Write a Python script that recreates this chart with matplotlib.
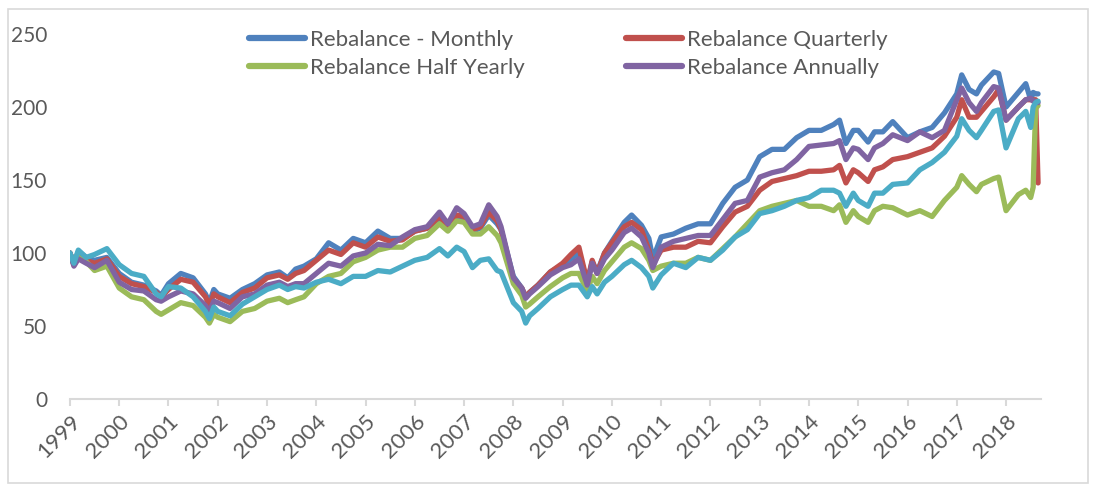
import matplotlib
matplotlib.use("Agg")
import matplotlib.pyplot as plt
from matplotlib.patches import Rectangle

plt.rcParams['font.family'] = ['Lato', 'DejaVu Sans']

# time points (fractional years)
t = [1999.0, 1999.08, 1999.17, 1999.33, 1999.5, 1999.75, 2000.0, 2000.25, 2000.5, 2000.75,
     2000.85, 2001.0, 2001.25, 2001.5, 2001.75, 2001.83, 2001.92, 2002.0, 2002.25, 2002.5,
     2002.75, 2003.0, 2003.25, 2003.42, 2003.58, 2003.75, 2004.0, 2004.25, 2004.5, 2004.75,
     2005.0, 2005.25, 2005.5, 2005.75, 2006.0, 2006.25, 2006.5, 2006.67, 2006.85, 2007.0,
     2007.17, 2007.33, 2007.5, 2007.67, 2007.75, 2008.0, 2008.17, 2008.25, 2008.33, 2008.5,
     2008.75, 2009.0, 2009.17, 2009.33, 2009.5, 2009.6, 2009.7, 2009.85, 2010.0, 2010.25,
     2010.4, 2010.6, 2010.75, 2010.83, 2011.0, 2011.25, 2011.5, 2011.75, 2012.0, 2012.25,
     2012.5, 2012.75, 2013.0, 2013.25, 2013.5, 2013.75, 2014.0, 2014.25, 2014.5, 2014.62,
     2014.75, 2014.9, 2015.0, 2015.2, 2015.33, 2015.5, 2015.7, 2016.0, 2016.25, 2016.5,
     2016.75, 2017.0, 2017.1, 2017.25, 2017.4, 2017.5, 2017.75, 2017.85, 2018.0, 2018.25,
     2018.4, 2018.5, 2018.55, 2018.6, 2018.65]

monthly = [100, 93, 101, 97, 95, 97, 86, 80, 78, 74,
           71, 79, 86, 83, 72, 66, 75, 72, 69, 75,
           79, 85, 87, 83, 89, 91, 96, 107, 102, 110,
           107, 115, 110, 110, 115, 117, 124, 118, 125, 122,
           115, 117, 126, 120, 116, 84, 76, 70, 73, 78,
           87, 92, 96, 100, 80, 94, 87, 100, 108, 121,
           126, 119, 110, 96, 111, 113, 117, 120, 120, 134,
           145, 150, 166, 171, 171, 179, 184, 184, 188, 191,
           175, 184, 184, 176, 183, 183, 190, 179, 183, 186,
           196, 209, 222, 212, 209, 215, 224, 223, 200, 210,
           216, 205, 210, 209, 209]

quarterly = [100, 92, 97, 95, 93, 96, 84, 79, 77, 73,
             70, 75, 82, 80, 70, 64, 72, 70, 66, 73,
             76, 83, 85, 82, 86, 88, 95, 102, 99, 107,
             104, 111, 108, 109, 115, 117, 125, 118, 126, 125,
             116, 118, 128, 122, 116, 82, 76, 70, 73, 78,
             87, 93, 99, 104, 80, 95, 86, 100, 107, 118,
             121, 116, 102, 92, 102, 104, 104, 108, 107, 118,
             128, 132, 143, 149, 151, 153, 156, 156, 157, 160,
             148, 157, 155, 149, 157, 159, 164, 166, 169, 172,
             180, 193, 205, 193, 193, 197, 207, 212, 191, 200,
             205, 205, 205, 205, 148]

half_yearly = [100, 92, 97, 94, 88, 91, 76, 70, 68, 60,
               58, 61, 66, 64, 56, 52, 58, 56, 53, 60,
               62, 67, 69, 66, 68, 70, 79, 84, 86, 94,
               97, 102, 104, 104, 110, 112, 120, 115, 122, 121,
               113, 113, 118, 112, 107, 79, 71, 63, 65, 70,
               77, 83, 86, 86, 74, 84, 79, 88, 94, 104,
               107, 103, 95, 88, 91, 93, 93, 97, 95, 103,
               111, 120, 129, 132, 134, 136, 132, 132, 129, 133,
               121, 129, 125, 121, 129, 132, 131, 126, 129, 125,
               136, 145, 153, 147, 142, 147, 151, 152, 129, 140,
               143, 138, 145, 199, 201]

annually = [100, 91, 96, 93, 90, 95, 80, 75, 74, 68,
            67, 70, 74, 72, 64, 60, 67, 66, 62, 70,
            72, 78, 80, 77, 79, 79, 86, 93, 91, 98,
            100, 106, 105, 111, 116, 118, 128, 120, 131, 127,
            118, 120, 133, 125, 118, 83, 76, 69, 72, 77,
            85, 90, 92, 96, 78, 93, 86, 96, 102, 114,
            117, 111, 100, 90, 104, 108, 110, 112, 112, 123,
            134, 136, 152, 155, 157, 164, 173, 174, 175, 177,
            164, 172, 171, 164, 172, 175, 181, 177, 183, 179,
            184, 205, 213, 203, 197, 203, 214, 213, 191, 200,
            205, 206, 204, 204, 203]

unlabelled = [100, 93, 102, 97, 99, 103, 92, 86, 84, 72,
              70, 77, 76, 70, 60, 55, 63, 60, 57, 65,
              70, 75, 78, 75, 77, 76, 80, 82, 79, 84,
              84, 88, 87, 91, 95, 97, 103, 98, 104, 101,
              90, 95, 96, 88, 87, 66, 60, 52, 57, 62,
              70, 75, 78, 78, 70, 77, 72, 80, 84, 92,
              95, 90, 84, 76, 85, 93, 90, 97, 95, 102,
              111, 116, 127, 129, 132, 136, 138, 143, 143, 141,
              132, 141, 136, 132, 141, 141, 147, 148, 157, 162,
              169, 180, 192, 184, 179, 184, 197, 198, 172, 192,
              197, 186, 200, 203, 204]

labels = ['Rebalance - Monthly', 'Rebalance Quarterly', 'Rebalance Half Yearly',
          'Rebalance Annually', None]
series = [monthly, quarterly, half_yearly, annually, unlabelled]
colors = ['#4F81BD', '#C0504D', '#9BBB59', '#8064A2', '#4BACC6']
year_ticks = list(range(1999, 2019))

fig = plt.figure(figsize=(10.93, 4.86), dpi=100)
ax = fig.add_axes([0.064, 0.179, 0.888, 0.751])

handles = []
for vals, lab, c in zip(series, labels, colors):
    ln, = ax.plot(t, vals, color=c, lw=3.8, label=lab if lab else '_nolegend_',
                  solid_joinstyle='round', solid_capstyle='round')
    if lab:
        handles.append(ln)

ax.set_xlim(1999, 2018.70)
ax.set_ylim(0, 250)
ax.set_yticks([0, 50, 100, 150, 200, 250])
ax.set_xticks(year_ticks)
ax.set_xticklabels([str(y) for y in year_ticks], rotation=45, ha='right', va='top',
                   rotation_mode='anchor')
for s in ['top', 'right', 'left']:
    ax.spines[s].set_visible(False)
ax.spines['bottom'].set_color('#D9D9D9')
ax.spines['bottom'].set_linewidth(1.5)
ax.tick_params(axis='x', colors='#D9D9D9', length=5, width=1.5, labelcolor='#595959',
               labelsize=16, pad=4)
ax.tick_params(axis='y', length=0, labelcolor='#595959', labelsize=15, pad=16.5)

# row-wise order: Monthly, Quarterly / Half Yearly, Annually (matplotlib fills by column)
order = [0, 2, 1, 3]
leg = ax.legend([handles[i] for i in order], [labels[i] for i in order],
                loc='upper left', bbox_to_anchor=(0.164, 1.067), ncol=2, frameon=False,
                fontsize=16, handlelength=2.5, handletextpad=0.25, columnspacing=4.55,
                labelspacing=0.36, labelcolor='#595959')
for h in leg.get_lines():
    h.set_linewidth(4.5)
    h.set_solid_capstyle('round')

fig.patches.append(Rectangle((0.007, 0.006), 0.988, 0.976, transform=fig.transFigure,
                             fill=False, edgecolor='#D9D9D9', lw=1.2))

fig.savefig('out.png', dpi=100)
